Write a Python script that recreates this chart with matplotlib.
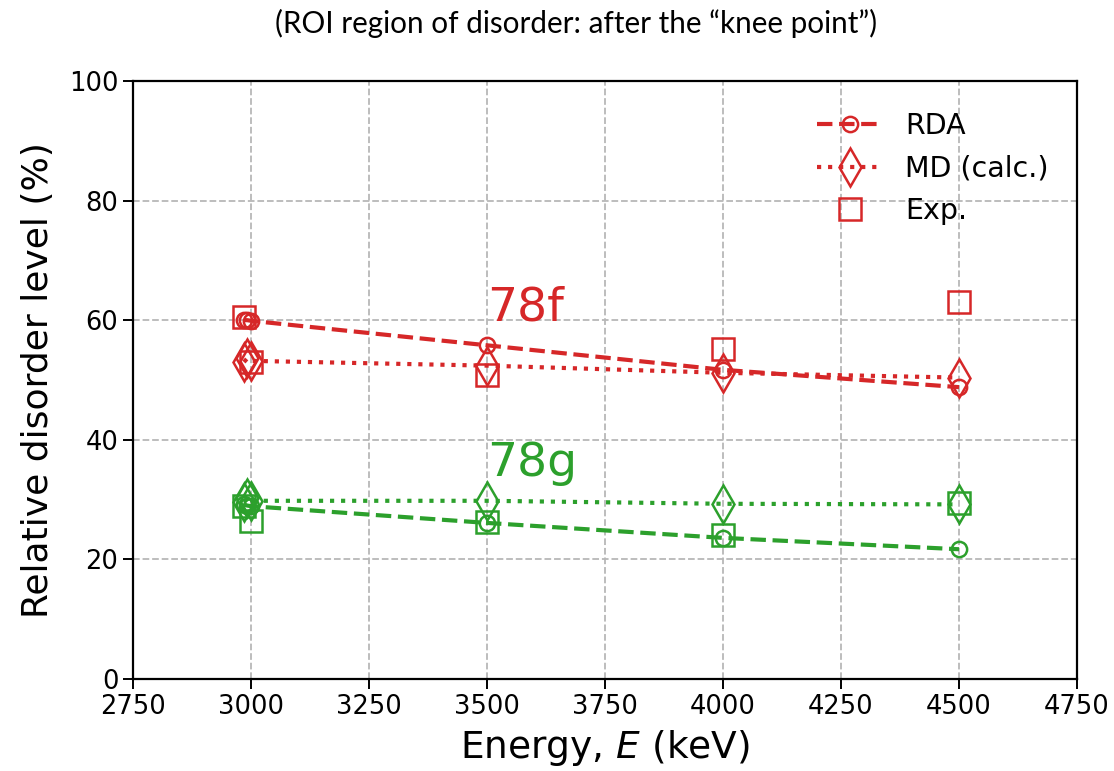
import matplotlib
matplotlib.use("Agg")
import matplotlib.pyplot as plt
from matplotlib.lines import Line2D

plt.rcParams["font.family"] = ["DejaVu Sans"]

# Beam energies (keV)
energy = [2985, 2992, 3000, 3500, 4000, 4500]
energy_exp = [2985, 3000, 3500, 4000, 4500]

# Sample 78f
rda_78f = [60.0, 60.0, 59.9, 55.8, 51.7, 48.8]
md_78f = [53.0, 53.6, 53.2, 52.4, 51.2, 50.4]
exp_78f = [60.5, 53.0, 50.8, 55.2, 63.0]

# Sample 78g
rda_78g = [29.2, 29.0, 28.9, 26.1, 23.6, 21.7]
md_78g = [29.6, 30.2, 29.8, 29.8, 29.3, 29.2]
exp_78g = [29.0, 26.5, 26.3, 24.0, 29.5]

x_ticks = [2750, 3000, 3250, 3500, 3750, 4000, 4250, 4500, 4750]
y_ticks = [0, 20, 40, 60, 80, 100]

RED = "#d62728"
GREEN = "#2ca02c"

fig = plt.figure(figsize=(11.14, 7.71), dpi=100)
ax = fig.add_axes([0.1194, 0.1193, 0.8474, 0.7757])

lw = 3.0
mew = 1.8
for col, rda, md, exp in [(RED, rda_78f, md_78f, exp_78f),
                          (GREEN, rda_78g, md_78g, exp_78g)]:
    ax.plot(energy, rda, ls="--", lw=lw, color=col, marker="o", ms=11,
            mfc="none", mec=col, mew=mew, zorder=3)
    ax.plot(energy, md, ls=":", lw=lw, color=col, marker="d", ms=19,
            mfc="none", mec=col, mew=mew, zorder=3)
    ax.plot(energy_exp, exp, ls="none", color=col, marker="s", ms=15.5,
            mfc="none", mec=col, mew=mew, zorder=3)

ax.text(3500, 60.0, "78f", color=RED, fontsize=34, ha="left", va="baseline")
ax.text(3500, 34.0, "78g", color=GREEN, fontsize=34, ha="left", va="baseline")

ax.set_xlim(2750, 4750)
ax.set_ylim(0, 100)
ax.set_xticks(x_ticks)
ax.set_yticks(y_ticks)
ax.tick_params(labelsize=18.5, length=7, width=1.4)
for s in ax.spines.values():
    s.set_linewidth(1.6)
ax.grid(True, ls="--", color="#b8b8b8", lw=1.3)
ax.set_axisbelow(True)

ax.set_xlabel("Energy, $E$ (keV)", fontsize=27, labelpad=6)
ax.set_ylabel("Relative disorder level (%)", fontsize=26, labelpad=10)

handles = [
    Line2D([], [], ls="--", lw=lw, color=RED, marker="o", ms=11, mfc="none", mew=mew),
    Line2D([], [], ls=":", lw=lw, color=RED, marker="d", ms=19, mfc="none", mew=mew),
    Line2D([], [], ls="none", color=RED, marker="s", ms=15.5, mfc="none", mew=mew),
]
ax.legend(handles, ["RDA", "MD (calc.)", "Exp."], loc="upper right",
          frameon=False, fontsize=20.5, handlelength=2.3, labelspacing=0.5,
          handletextpad=0.8, borderaxespad=0.6, bbox_to_anchor=(1.0, 0.995))

fig.text(0.517, 0.969, "(ROI region of disorder: after the \u201cknee point\u201d)",
         ha="center", va="center", fontsize=21.3, family="Lato")

fig.savefig("out.png", dpi=100)
